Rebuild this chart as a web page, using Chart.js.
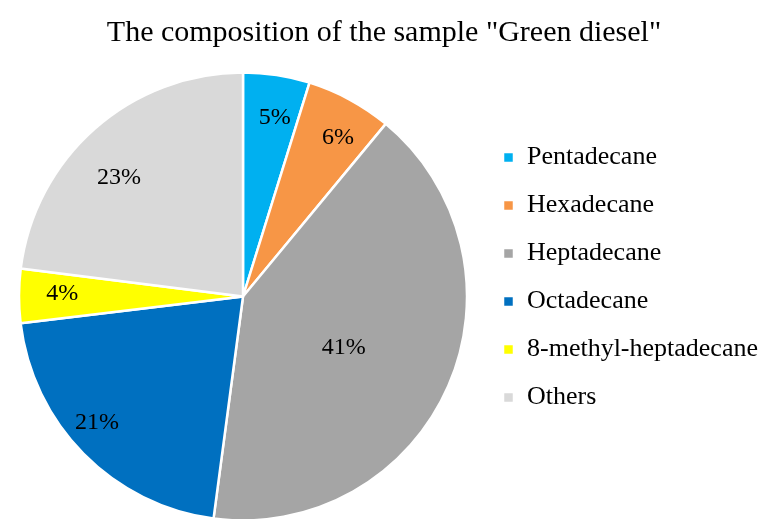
<!DOCTYPE html>
<html>
<head>
<meta charset="utf-8">
<title>Green diesel composition</title>
<script src="https://cdn.jsdelivr.net/npm/chart.js@4.4.1/dist/chart.umd.min.js"></script>
<style>
  body { margin: 0; background: #fff; }
  canvas { display: block; }
</style>
</head>
<body>
<canvas id="pie" width="763" height="519"></canvas>
<script>
// data (share of the sample, %)
const components = ['Pentadecane', 'Hexadecane', 'Heptadecane', 'Octadecane', '8-methyl-heptadecane', 'Others'];
const shares = [4.8, 6.2, 41.1, 21.0, 3.9, 23.0];
const sliceColors = ['#00B0F0', '#F79646', '#A5A5A5', '#0070C0', '#FFFF00', '#D9D9D9'];

// label placement inside each slice: fraction of radius and small angle nudge (deg)
const labelRadius = [0.82, 0.835, 0.5, 0.855, 0.807, 0.774];
const labelNudge = [1.3, 2.1, 2.4, 4.3, 1.4, -4.3];

const serif = "'Liberation Serif', 'Times New Roman', serif";

// draws the percentage inside each slice
const percentLabels = {
    id: 'percentLabels',
    afterDatasetsDraw(chart) {
        const ctx = chart.ctx;
        const meta = chart.getDatasetMeta(0);
        const total = shares.reduce((a, b) => a + b, 0);
        ctx.save();
        ctx.font = '24px ' + serif;
        ctx.fillStyle = '#000';
        ctx.textAlign = 'center';
        ctx.textBaseline = 'middle';
        meta.data.forEach((arc, i) => {
            const mid = (arc.startAngle + arc.endAngle) / 2 + labelNudge[i] * Math.PI / 180;
            const r = arc.outerRadius * labelRadius[i];
            const x = arc.x + Math.cos(mid) * r;
            const y = arc.y + Math.sin(mid) * r + 2.5;
            ctx.fillText(Math.round(shares[i] / total * 100) + '%', x, y);
        });
        ctx.restore();
    }
};

const chart = new Chart(document.getElementById('pie').getContext('2d'), {
    type: 'pie',
    data: {
        labels: components,
        datasets: [{
            data: shares,
            backgroundColor: sliceColors,
            borderColor: '#fff',
            borderWidth: 2.5
        }]
    },
    options: {
        responsive: false,
        animation: false,
        devicePixelRatio: 1,
        radius: 224,
        layout: {
            padding: { left: 5, right: 0, top: 0, bottom: 0 }
        },
        plugins: {
            title: {
                display: true,
                text: 'The composition of the sample "Green diesel"',
                color: '#000',
                font: { family: serif, size: 30, weight: 'normal', lineHeight: 1.2 },
                padding: { top: 15, bottom: 23 }
            },
            legend: {
                position: 'right',
                maxWidth: 282,
                title: {
                    display: true,
                    text: ' ',
                    font: { size: 30, lineHeight: 1.2 },
                    padding: 0
                },
                labels: {
                    boxWidth: 11,
                    boxHeight: 11,
                    padding: 22,
                    color: '#000',
                    font: { family: serif, size: 26 }
                }
            },
            tooltip: { enabled: false }
        }
    },
    plugins: [percentLabels]
});
</script>
</body>
</html>
